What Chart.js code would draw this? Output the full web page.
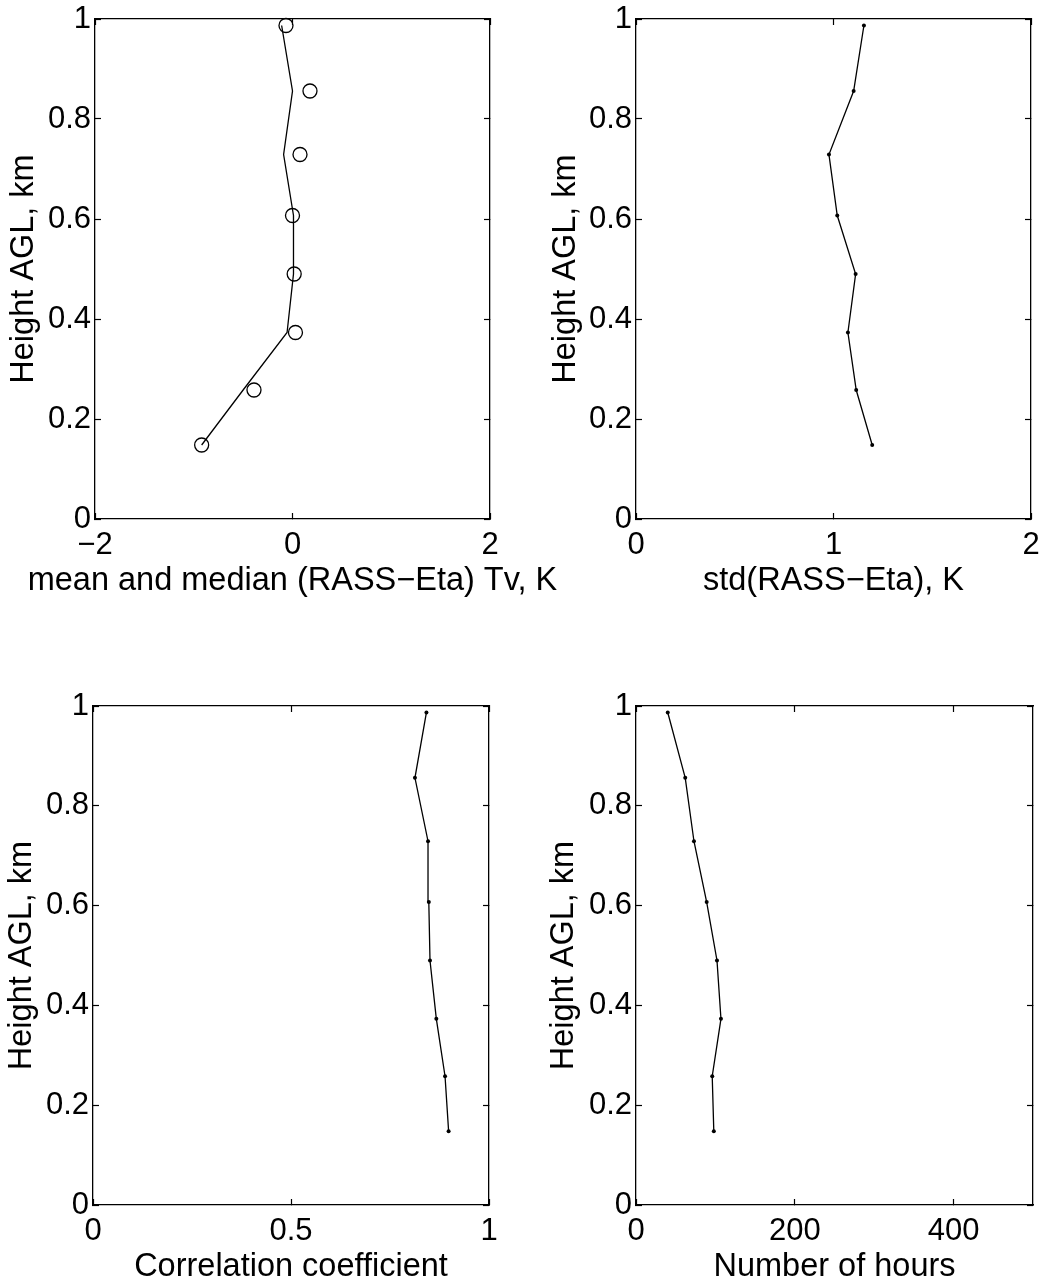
<!DOCTYPE html>
<html>
<head>
<meta charset="utf-8">
<script src="https://cdn.jsdelivr.net/npm/chart.js@4.4.1/dist/chart.umd.min.js"></script>
<style>
  html, body { margin: 0; padding: 0; background: #fff; }
  #page { position: relative; width: 1042px; height: 1280px; overflow: hidden; background: #fff; }
  #page canvas { position: absolute; }
</style>
</head>
<body>
<div id="page">
  <canvas id="meanChart"></canvas>
  <canvas id="stdChart"></canvas>
  <canvas id="corrChart"></canvas>
  <canvas id="hoursChart"></canvas>
</div>
<script>
// range gate heights, km AGL (bottom -> top)
const heights = [0.148, 0.258, 0.373, 0.49, 0.607, 0.729, 0.856, 0.987];

// RASS - Eta statistics at each height
const meanDiff   = [-0.92, -0.50, -0.055, 0.01, 0.01, -0.09, 0.0, -0.11];
const medianDiff = [-0.92, -0.39, 0.03, 0.017, 0.0, 0.076, 0.177, -0.066];
const stdDiff    = [1.196, 1.115, 1.073, 1.112, 1.019, 0.977, 1.102, 1.154];
const corrCoef   = [0.898, 0.889, 0.867, 0.851, 0.848, 0.846, 0.813, 0.842];
const nHours     = [98, 96, 107, 102, 89, 73, 62, 40];

// axis ranges and tick labels
const heightRange = [0, 1];
const heightTicks = [0, 0.2, 0.4, 0.6, 0.8, 1];
const meanRange   = [-2, 2];
const meanTicks   = [-2, 0, 2];
const stdRange    = [0, 2];
const stdTicks    = [0, 1, 2];
const corrRange   = [0, 1];
const corrTicks   = [0, 0.5, 1];
const hoursRange  = [0, 500];
const hoursTicks  = [0, 200, 400];

const FONT = '"Liberation Sans", Arial, Helvetica, sans-serif';
Chart.defaults.font.family = FONT;
Chart.defaults.color = '#000';

const TICK_FONT = { size: 31 };
const TITLE_FONT = { size: 32.5, weight: 'normal' };
const X_AXIS_H = 42.5;            // room for x tick labels
const TITLE_BOX_H = 32.5 * 1.2;   // one line of the x title

function toPoints(values) {
  return values.map((v, i) => ({ x: v, y: heights[i] }));
}

// MATLAB style inward ticks on all four sides
function frameGrid() {
  return { display: true, drawOnChartArea: false, drawTicks: true,
           tickLength: -6, tickWidth: 1.2, tickColor: '#000' };
}
const frameBorder = { display: true, color: '#000', width: 1.3 };

function fixedTicks(list) {
  return function (scale) { scale.ticks = list.map(v => ({ value: v })); };
}

function fixSize(prop, size) {
  return function (scale) {
    scale[prop] = size;
    scale.paddingTop = 0; scale.paddingBottom = 0;
    scale.paddingLeft = 0; scale.paddingRight = 0;
  };
}

// plain labels: "1" not "1.0", real minus sign
const tickLabel = v => String(v).replace('-', '\u2212');

function makePanel(id, box, plot, xRange, xTicks, xTitle, datasets) {
  const canvas = document.getElementById(id);
  canvas.width = box.width;
  canvas.height = box.height;
  canvas.style.left = box.left + 'px';
  canvas.style.top = box.top + 'px';

  const leftW = plot.left - box.left;
  const rightW = box.left + box.width - plot.right;
  const topH = plot.top - box.top;
  const padBottom = box.top + box.height - plot.bottom - X_AXIS_H - TITLE_BOX_H;

  return new Chart(canvas, {
    type: 'scatter',
    data: { datasets: datasets },
    options: {
      responsive: false,
      animation: false,
      devicePixelRatio: 1,
      layout: { padding: { top: 0, left: 0, right: 0, bottom: padBottom } },
      scales: {
        x: {
          type: 'linear', position: 'bottom',
          min: xRange[0], max: xRange[1],
          afterBuildTicks: fixedTicks(xTicks),
          afterFit: fixSize('height', X_AXIS_H),
          ticks: { font: TICK_FONT, color: '#000', padding: 14, maxRotation: 0, autoSkip: false, callback: tickLabel },
          grid: frameGrid(), border: frameBorder
        },
        x2: {
          type: 'linear', axis: 'x', position: 'top',
          min: xRange[0], max: xRange[1],
          afterBuildTicks: fixedTicks(xTicks),
          afterFit: fixSize('height', topH),
          ticks: { display: false },
          grid: frameGrid(), border: frameBorder
        },
        y: {
          type: 'linear', position: 'left',
          min: heightRange[0], max: heightRange[1],
          afterBuildTicks: fixedTicks(heightTicks),
          afterFit: fixSize('width', leftW),
          ticks: { font: TICK_FONT, color: '#000', padding: 10, autoSkip: false, callback: tickLabel },
          title: { display: true, text: 'Height AGL, km', font: TITLE_FONT, color: '#000', padding: { top: 2.5, bottom: 0 } },
          grid: frameGrid(), border: frameBorder
        },
        y2: {
          type: 'linear', axis: 'y', position: 'right',
          min: heightRange[0], max: heightRange[1],
          afterBuildTicks: fixedTicks(heightTicks),
          afterFit: fixSize('width', rightW),
          ticks: { display: false },
          grid: frameGrid(), border: frameBorder
        }
      },
      plugins: {
        legend: { display: false },
        tooltip: { enabled: false },
        title: {
          display: true, position: 'bottom', text: xTitle,
          font: TITLE_FONT, color: '#000', padding: { top: 0, bottom: 0 }
        }
      }
    }
  });
}

function profileLine(values) {
  return {
    data: toPoints(values), showLine: true, clip: false,
    borderColor: '#000', borderWidth: 1.3,
    pointRadius: 2, pointBackgroundColor: '#000', pointBorderWidth: 0,
    xAxisID: 'x', yAxisID: 'y'
  };
}

// === mean (line) and median (circles) ===
makePanel('meanChart',
  { left: 2, top: 0, width: 581, height: 620 },
  { left: 95, right: 490, top: 19, bottom: 519 },
  meanRange, meanTicks, 'mean and median (RASS\u2212Eta) Tv, K',
  [{
    data: toPoints(meanDiff), showLine: true, clip: false,
    borderColor: '#000', borderWidth: 1.3, pointRadius: 0,
    xAxisID: 'x', yAxisID: 'y'
  }, {
    data: toPoints(medianDiff), showLine: false, clip: false,
    pointStyle: 'circle', pointRadius: 7,
    pointBorderColor: '#000', pointBackgroundColor: 'rgba(0,0,0,0)', pointBorderWidth: 1.3,
    xAxisID: 'x', yAxisID: 'y'
  }]);

// === standard deviation ===
makePanel('stdChart',
  { left: 544, top: 0, width: 579, height: 620 },
  { left: 636, right: 1031, top: 19, bottom: 519 },
  stdRange, stdTicks, 'std(RASS\u2212Eta), K',
  [profileLine(stdDiff)]);

// === correlation ===
makePanel('corrChart',
  { left: 0, top: 687, width: 582, height: 620 },
  { left: 93, right: 489, top: 706, bottom: 1205 },
  corrRange, corrTicks, 'Correlation coefficient',
  [profileLine(corrCoef)]);

// === number of hours ===
makePanel('hoursChart',
  { left: 542, top: 687, width: 585, height: 620 },
  { left: 636, right: 1033, top: 706, bottom: 1205 },
  hoursRange, hoursTicks, 'Number of hours',
  [profileLine(nHours)]);
</script>
</body>
</html>
